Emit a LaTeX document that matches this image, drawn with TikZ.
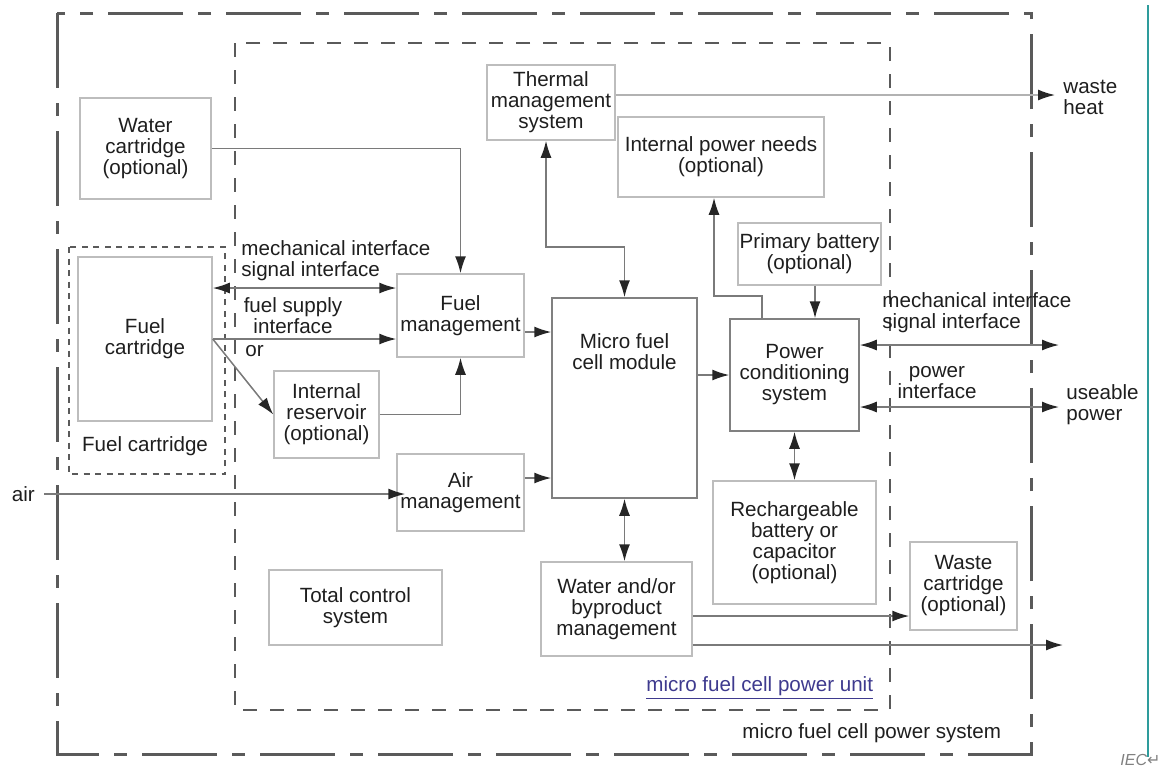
\documentclass[tikz,border=0pt]{standalone}
\usepackage{fontspec}
\setmainfont{Liberation Sans}
\newfontfamily\symfont{DejaVu Sans}
\usetikzlibrary{arrows.meta}
\definecolor{boxgray}{HTML}{BDBDBD}
\definecolor{linegray}{HTML}{7A7A7A}
\definecolor{framegray}{HTML}{5A5A5A}
\definecolor{unitblue}{HTML}{3E3A8E}
\definecolor{pageteal}{HTML}{2E9C9C}
\definecolor{textblack}{HTML}{1E1E1E}
\newcommand\diafont{\fontsize{10.3}{10.5}\selectfont}
\tikzset{%
  block/.style     = {draw=boxgray, line width=0.75pt, rectangle, align=center,
    inner sep=0pt, text=textblack, font=\diafont},
  darkblock/.style = {block, draw=gray},
  txt/.style       = {inner sep=0pt, text=textblack, font=\diafont}, % free text
  conn/.style      = {draw=linegray, line width=0.75pt}, % connector
  system/.style    = {draw=framegray, line width=1.5pt,
    dash pattern=on 37.5pt off 7.5pt on 6.5pt off 7.5pt},
  unit/.style      = {draw=framegray, line width=1.4pt, dash pattern=on 7pt off 6.5pt},
  cartframe/.style = {draw=framegray, line width=1pt, dash pattern=on 3pt off 2.75pt}
}

\begin{document}
\begin{tikzpicture}[x=0.5pt, y=-0.5pt, >={Latex[length=8.5pt,width=5.5pt,color=black!85]}]
\useasboundingbox (0,0) rectangle (1162,767);
% frames
\draw[system] (57,13) rectangle (1031,754);
\draw[unit] (235,43) rectangle (890,710);
\draw[cartframe] (69,247) rectangle (225,474);
\draw[pageteal, line width=0.6pt] (1148,5) -- (1148,757);
% blocks
\node (water) [block, minimum width=65.5pt, minimum height=50.5pt] at (145.5,148.5) {Water\\cartridge\\(optional)};
\node (fuelcart) [block, minimum width=67pt, minimum height=82pt] at (145,339) {Fuel\\cartridge};
\node (thermal) [block, minimum width=64pt, minimum height=37.5pt] at (551,102.5) {Thermal\\management\\system};
\node (ipower) [block, minimum width=103pt, minimum height=40pt] at (721,157) {Internal power needs\\(optional)};
\node (primary) [block, minimum width=71.5pt, minimum height=31pt] at (809.5,254) {Primary battery\\(optional)};
\node (fuelmgmt) [block, minimum width=63.5pt, minimum height=41.5pt] at (460.5,315.5) {Fuel\\management};
\node (micro) [darkblock, minimum width=72.5pt, minimum height=100pt] at (624.5,398) {};
\node (pcond) [darkblock, minimum width=64.5pt, minimum height=56pt] at (794.5,375) {Power\\conditioning\\system};
\node (resv) [block, minimum width=52.5pt, minimum height=43.5pt] at (326.5,414.5) {Internal\\reservoir\\(optional)};
\node (airmgmt) [block, minimum width=63.5pt, minimum height=38.5pt] at (460.5,492.5) {Air\\management};
\node (recharge) [block, minimum width=81.5pt, minimum height=61.5pt] at (794.5,542.5) {Rechargeable\\battery or\\capacitor\\(optional)};
\node (waste) [block, minimum width=53.5pt, minimum height=44pt] at (963.5,586) {Waste\\cartridge\\(optional)};
\node (wmgmt) [block, minimum width=75.5pt, minimum height=47pt] at (616.5,609) {Water and/or\\byproduct\\management};
\node (control) [block, minimum width=86.5pt, minimum height=37.5pt] at (355.5,607.5) {Total control\\system};
% texts
\node (microtxt) [txt, align=center, anchor=north] at ([yshift=-18pt]micro.north) {Micro fuel\\cell module};
\node (cartlbl) [txt] at (145,446) {Fuel cartridge};
\node (mechl) [txt, align=left, anchor=west] at (241,260.5) {mechanical interface\\signal interface};
\node (supply) [txt, align=center] at (293,315.5) {fuel supply\\interface};
\node (orlbl) [txt, anchor=west] at (245,351) {or};
\node (air) [txt, anchor=west] at (11.5,494) {air};
\node (mechr) [txt, align=left, anchor=west] at (882,313) {mechanical interface\\signal interface};
\node (pwrif) [txt, align=center] at (937,382.5) {power\\interface};
\node (heat) [txt, align=left, anchor=west] at (1063,97) {waste\\heat};
\node (useable) [txt, align=left, anchor=west] at (1066,404.5) {useable\\power};
\node (unitlbl) [txt, text=unitblue, anchor=west] at (646,688) {\underline{micro fuel cell power unit}};
\node (syslbl) [txt, anchor=west] at (742,733) {micro fuel cell power system};
\node (iec) [inner sep=0pt, anchor=north west, text=gray, font=\fontsize{8}{9}\selectfont] at (1120,754) {\textit{IEC}{\symfont ↵}};
% free ends and bends
\coordinate (tbend) at (546,247);
\coordinate (pbend) at (714,296);
\coordinate (mechout) at (1059,345);
\coordinate (pwrout) at (1059,407);
\coordinate (wasteout) at (1063,645);
% connectors
\draw[conn,->] (water.east) -| (fuelmgmt.north);
\draw[conn,<->] ([yshift=25.5pt]fuelcart.east) -- ([yshift=25.5pt]fuelcart.east -| fuelmgmt.west);
\draw[conn,->] (fuelcart.east) -- (fuelcart.east -| fuelmgmt.west);
\draw[conn,->] (fuelcart.east) -- (resv.west);
\draw[conn,->] (resv.east) -| (fuelmgmt.south);
\draw[conn,->] ([yshift=-8.25pt]fuelmgmt.east) -- ([yshift=-8.25pt]fuelmgmt.east -| micro.west);
\draw[conn,->] ([xshift=4.5pt]air.east) -- ([xshift=4.5pt]air.east -| airmgmt.west);
\draw[conn,->] ([yshift=7.25pt]airmgmt.east) -- ([yshift=7.25pt]airmgmt.east -| micro.west);
\draw[conn,<->] (thermal.south -| tbend) -- (tbend) -| (micro.north);
\draw[conn,draw=gray!60,->] ([yshift=3.75pt]thermal.east) -- ([yshift=3.75pt]thermal.east -| 1055,0);
\draw[conn,->] ([yshift=11.5pt]micro.east) -- ([yshift=11.5pt]micro.east -| pcond.west);
\draw[conn,->] ([xshift=-16.25pt]pcond.north) |- (pbend) -- (pbend |- ipower.south);
\draw[conn,->] ([xshift=2.75pt]primary.south) -- ([xshift=2.75pt]primary.south |- pcond.north);
\draw[conn,<->] (pcond.east |- mechout) -- (mechout);
\draw[conn,<->] (pcond.east |- pwrout) -- (pwrout);
\draw[conn,<->] (pcond.south) -- (pcond.south |- recharge.north);
\draw[conn,<->] (micro.south) -- (micro.south |- wmgmt.north);
\draw[conn,->] ([yshift=-3.5pt]wmgmt.east) -- ([yshift=-3.5pt]wmgmt.east -| waste.west);
\draw[conn,->] (wmgmt.east |- wasteout) -- (wasteout);
\end{tikzpicture}
\end{document}
